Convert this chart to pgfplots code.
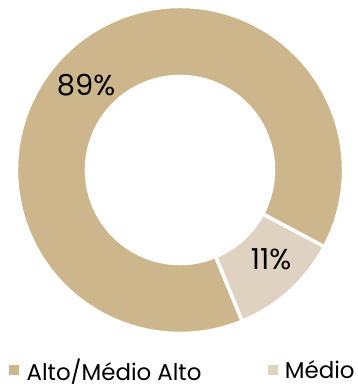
\documentclass[border=0pt]{standalone}
\usepackage{pgfplots}
\pgfplotsset{compat=1.18}
\usepackage{pgfplotstable}
\usepackage{fontspec}
\setmainfont{Poppins}
\usetikzlibrary{calc}
\definecolor{tanA}{HTML}{CDB68C}
\definecolor{tanB}{HTML}{DFD2C0}
\pgfplotstableread{
value
89
11
}\piedata
\begin{document}
\begin{tikzpicture}
\pgfplotstablegetelem{0}{value}\of\piedata \let\va\pgfplotsretval
\pgfplotstablegetelem{1}{value}\of\piedata \let\vb\pgfplotsretval
\pgfmathsetmacro{\aS}{-28}
\pgfmathsetmacro{\aM}{\aS+3.6*\va}
\pgfmathsetmacro{\aE}{\aM+3.6*\vb}
\begin{axis}[
  hide axis, scale only axis, width=358bp, height=388bp,
  xmin=0, xmax=358, ymin=0, ymax=388, clip=false,
  legend columns=2,
  legend style={at={(axis cs:9,18)}, anchor=west, draw=none, fill=none, inner sep=0pt,
    font=\fontsize{23}{26}\selectfont,
    nodes={inner sep=0pt},
    /tikz/every odd column/.append style={column sep=8bp},
    /tikz/every even column/.append style={column sep=66bp}},
  legend cell align=left,
]
\addlegendimage{legend image code/.code={\fill[tanA] (0bp,-4.5bp) rectangle (9bp,4.5bp);}}
\addlegendentry{Alto/Médio Alto}
\addlegendimage{legend image code/.code={\fill[tanB] (0bp,-4.5bp) rectangle (9bp,4.5bp);}}
\addlegendentry{Médio}
\coordinate (c) at (axis cs:180,218);
\fill[tanA, draw=white, line width=3.5bp] ($(c)+(\aS:163.5bp)$) arc[start angle=\aS, end angle=\aM, radius=163.5bp] -- ($(c)+(\aM:93.5bp)$) arc[start angle=\aM, end angle=\aS, radius=93.5bp] -- cycle;
\fill[tanB, draw=white, line width=3.5bp] ($(c)+(\aM:163.5bp)$) arc[start angle=\aM, end angle=\aE, radius=163.5bp] -- ($(c)+(\aE:93.5bp)$) arc[start angle=\aE, end angle=\aM, radius=93.5bp] -- cycle;
\node[font=\fontsize{29}{32}\selectfont] at (axis cs:86,303) {89\%};
\node[font=\fontsize{29}{32}\selectfont] at (axis cs:271,129) {11\%};
\end{axis}
\pgfresetboundingbox
\path (current axis.south west) rectangle (current axis.north east);
\end{tikzpicture}
\end{document}
